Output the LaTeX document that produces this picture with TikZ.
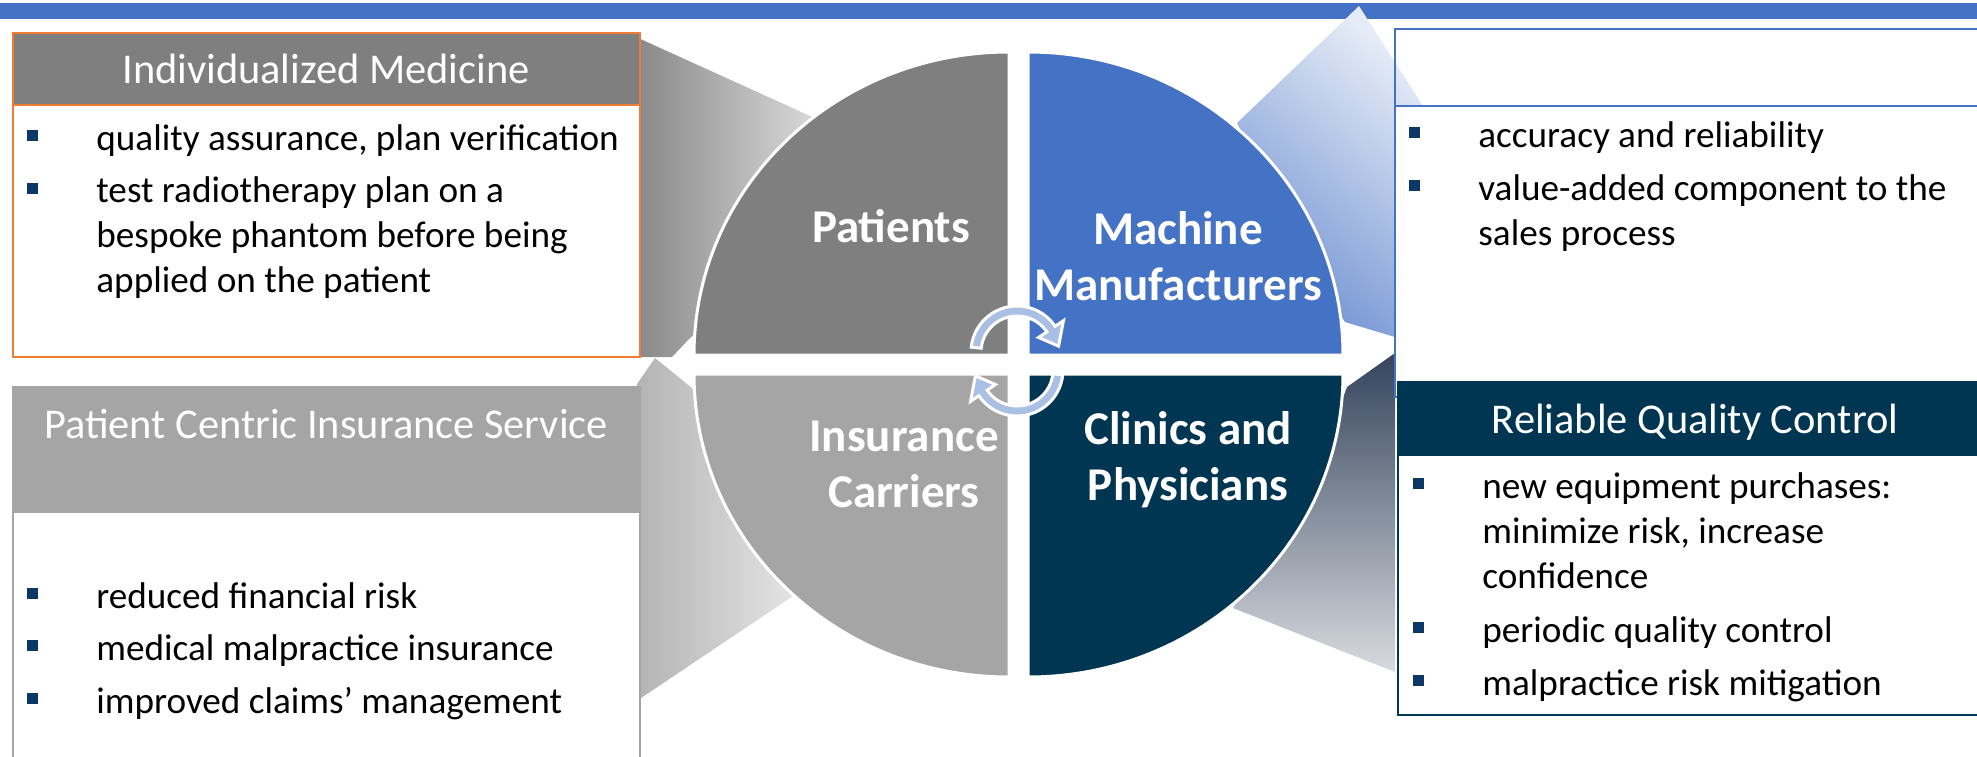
\documentclass[tikz,border=0pt]{standalone}
\usepackage{fontspec}
\setmainfont{Carlito}
\usepackage{tikz}

\definecolor{barblue}{HTML}{4472C4}
\definecolor{quadgray}{HTML}{7F7F7F}
\definecolor{quadlight}{HTML}{A5A5A5}
\definecolor{quadnavy}{HTML}{003652}
\definecolor{boxorange}{HTML}{ED7D31}
\definecolor{bulletnavy}{HTML}{0C3868}
\definecolor{cyclearrow}{HTML}{A9BFE3}
\definecolor{tlleft}{HTML}{888888}
\definecolor{tlright}{HTML}{E0E0E0}
\definecolor{blleft}{HTML}{B3B3B3}
\definecolor{blright}{HTML}{ECECEC}
\definecolor{trdark}{HTML}{7092D2}
\definecolor{trlight}{HTML}{E6ECF7}
\definecolor{brtop}{HTML}{34445C}
\definecolor{brbottom}{HTML}{D8DADF}

\tikzset{
  bodytext/.style={anchor=base west, inner sep=0pt, align=left,
    font=\fontsize{18.6}{22.5}\selectfont},
  titletext/.style={anchor=base, inner sep=0pt, text=white,
    font=\fontsize{21.2}{24}\selectfont},
  quadlabel/.style={anchor=base, inner sep=0pt, text=white, align=center,
    font=\fontsize{23.5}{28}\selectfont\bfseries},
  bulletsq/.style={fill=bulletnavy},
  quadrant/.style={draw=white, line width=1.5pt},
  cycarrow/.style={draw=white, fill=cyclearrow, line width=1.5pt}
}

\begin{document}
\begin{tikzpicture}[x=0.5pt, y=-0.5pt]
        \useasboundingbox (0,0) rectangle (1977,756);
        % top bar
        \fill[barblue] (0,3) rectangle (1977,19);

        % gradient wedges behind the circle
        \shade[left color=tlleft, right color=tlright] (636,37) -- (830,125) -- (700,330) -- (690,338) -- (672,357) -- (636,357) -- cycle;
        \shade[left color=blleft, right color=blright] (637,384) -- (655,358) -- (692,388) -- (760,480) -- (820,578) -- (641,698) -- cycle;
        \shade[bottom color=trdark, top color=trlight, shading angle=-40] (1359,6) -- (1423,106) -- (1395,106) -- (1395,337) -- (1345,322) -- (1300,250) -- (1237,123) -- cycle;
        \shade[top color=brtop, bottom color=brbottom] (1347,387) -- (1395,353) -- (1395,672) -- (1233,608) -- (1290,520) -- (1335,420) -- cycle;

        % boxes
        \filldraw[draw=boxorange, fill=white, line width=1.25pt] (13,33) rectangle (640,357);
        \filldraw[draw=boxorange, fill=quadgray, line width=1.25pt] (13,33) rectangle (640,105);
        \filldraw[draw=quadlight, fill=white, line width=1pt] (13,387) rectangle (640,780);
        \fill[quadlight] (13,387) rectangle (640,513);
        \draw[barblue, line width=1pt] (1395,29) rectangle (2030,397);
        \draw[barblue, line width=1pt] (1395,106) -- (2030,106);
        \filldraw[draw=quadnavy, fill=white, line width=1pt] (1398,382) rectangle (2030,715);
        \fill[quadnavy] (1398,382) rectangle (2030,456);

        % quadrants
        \filldraw[quadrant, fill=quadgray] (1009,355) -- (694,355) arc[start angle=180, end angle=270, x radius=315, y radius=303] -- cycle;
        \filldraw[quadrant, fill=barblue] (1028,355) -- (1343,355) arc[start angle=0, end angle=-90, x radius=315, y radius=303] -- cycle;
        \filldraw[quadrant, fill=quadlight] (1009,374) -- (694,374) arc[start angle=180, end angle=90, x radius=315, y radius=303] -- cycle;
        \filldraw[quadrant, fill=quadnavy] (1028,374) -- (1343,374) arc[start angle=0, end angle=90, x radius=315, y radius=303] -- cycle;

        % labels sit on the baseline of their last line
        \node[quadlabel] (patients) at (891,242) {Patients};
        \node[quadlabel] (machine) at (1178,300) {Machine\\Manufacturers};
        \node[quadlabel] (insurance) at (904,507) {Insurance\\Carriers};
        \node[quadlabel] (clinics) at (1188,500) {Clinics and\\Physicians};

        % cycle arrows
        \filldraw[cycarrow] ([shift={(1017,352)}]186:46) arc[start angle=186, end angle=326, radius=46]
          -- ([shift={(1017,352)}]326:56) -- ([shift={(1017,352)}]352:42)
          -- ([shift={(1017,352)}]326:26) -- ([shift={(1017,352)}]326:36)
          arc[start angle=326, end angle=186, radius=36] -- cycle;
        \filldraw[cycarrow] ([shift={(1017,370)}]6:46) arc[start angle=6, end angle=146, radius=46]
          -- ([shift={(1017,370)}]146:56) -- ([shift={(1017,370)}]172:42)
          -- ([shift={(1017,370)}]146:26) -- ([shift={(1017,370)}]146:36)
          arc[start angle=146, end angle=6, radius=36] -- cycle;

        % box titles
        \node[titletext] (imtitle) at (326,83) {Individualized Medicine};
        \node[titletext] (pctitle) at (326,438) {Patient Centric Insurance Service};
        \node[titletext] (rqtitle) at (1695,433) {Reliable Quality Control};

        % individualized medicine
        \fill[bulletsq] (27,130) rectangle ++(11,11);
        \node[bodytext] (im1) at (96,150) {quality assurance, plan verification};
        \fill[bulletsq] (27,183) rectangle ++(11,11);
        \node[bodytext] (im2) at (96,292) {test radiotherapy plan on a\\bespoke phantom before being\\applied on the patient};

        % insurance service
        \fill[bulletsq] (27,588) rectangle ++(11,11);
        \node[bodytext] (pc1) at (96,608) {reduced financial risk};
        \fill[bulletsq] (27,640) rectangle ++(11,11);
        \node[bodytext] (pc2) at (96,660) {medical malpractice insurance};
        \fill[bulletsq] (27,693) rectangle ++(11,11);
        \node[bodytext] (pc3) at (96,713) {improved claims’ management};

        % machine manufacturers
        \fill[bulletsq] (1409,127) rectangle ++(11,11);
        \node[bodytext] (mm1) at (1478,147) {accuracy and reliability};
        \fill[bulletsq] (1409,180) rectangle ++(11,11);
        \node[bodytext] (mm2) at (1478,245) {value-added component to the\\sales process};

        % quality control
        \fill[bulletsq] (1413,478) rectangle ++(11,11);
        \node[bodytext] (qc1) at (1482,588) {new equipment purchases:\\minimize risk, increase\\confidence};
        \fill[bulletsq] (1413,622) rectangle ++(11,11);
        \node[bodytext] (qc2) at (1482,642) {periodic quality control};
        \fill[bulletsq] (1413,675) rectangle ++(11,11);
        \node[bodytext] (qc3) at (1482,695) {malpractice risk mitigation};
      \end{tikzpicture}
\end{document}
